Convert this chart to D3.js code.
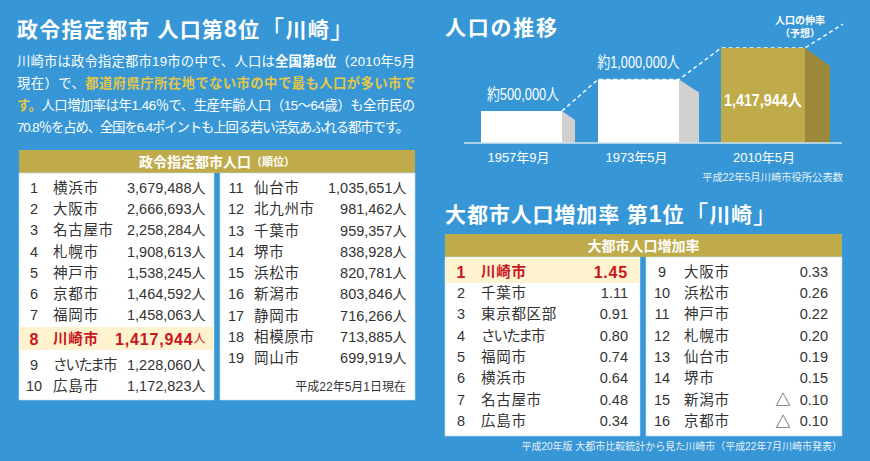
<!DOCTYPE html>
<html lang="ja">
<head>
<meta charset="utf-8">
<title>川崎市の人口</title>
<script src="https://cdn.jsdelivr.net/npm/d3@7"></script>
<style>
  html, body { margin: 0; padding: 0; background: #3797d6; }
  svg { display: block; }
  text { font-family: "Liberation Sans", "Noto Sans CJK JP", sans-serif; dominant-baseline: central; }
</style>
</head>
<body>
<svg width="870" height="461"></svg>
<script>
// population table
const popRanks = d3.range(1, 20);
const popCities = ["横浜市", "大阪市", "名古屋市", "札幌市", "神戸市", "京都市", "福岡市", "川崎市", "さいたま市", "広島市",
  "仙台市", "北九州市", "千葉市", "堺市", "浜松市", "新潟市", "静岡市", "相模原市", "岡山市"];
const popValues = [3679488, 2666693, 2258284, 1908613, 1538245, 1464592, 1458063, 1417944, 1228060, 1172823,
  1035651, 981462, 959357, 838928, 820781, 803846, 716266, 713885, 699919];

// growth rate table
const rateRanks = d3.range(1, 17);
const rateCities = ["川崎市", "千葉市", "東京都区部", "さいたま市", "福岡市", "横浜市", "名古屋市", "広島市",
  "大阪市", "浜松市", "神戸市", "札幌市", "仙台市", "堺市", "新潟市", "京都市"];
const rateValues = [1.45, 1.11, 0.91, 0.80, 0.74, 0.64, 0.48, 0.34, 0.33, 0.26, 0.22, 0.20, 0.19, 0.15, -0.10, -0.10];

// bars
const barDates = ["1957年9月", "1973年5月", "2010年5月"];
const barValues = [500000, 1000000, 1417944];
const barLabels = ["約500,000人", "約1,000,000人", "1,417,944人"];

const BLUE = "#3797d6", GOLD = "#bfab4a", GOLD_DARK = "#9b893b", SIDE = "#d1cfd0",
      CREAM = "#fff3cf", RED = "#c9151e", INK = "#333", PALE = "#e6f1f9", YELLOW = "#e3c647";

const svg = d3.select("svg");

function addText(parent, x, y, str, opts = {}) {
  const t = parent.append("text")
    .attr("x", x).attr("y", y)
    .attr("text-anchor", opts.anchor || "start")
    .attr("fill", opts.fill || "#fff")
    .style("font-size", (opts.size || 14) + "px")
    .style("font-weight", opts.weight || "normal");
  if (opts.spans) {
    opts.spans.forEach(s => {
      t.append("tspan")
        .attr("fill", s.fill || null)
        .style("font-weight", s.weight || null)
        .style("font-size", s.size ? s.size + "px" : null)
        .text(s.text);
    });
  } else {
    t.text(str);
  }
  if (opts.fit) t.attr("textLength", opts.fit).attr("lengthAdjust", opts.adjust || "spacing");
  return t;
}

// ---- left column text
addText(svg, 17, 29, "", { size: 21, weight: "bold", fit: 337, spans: [
  { text: "政令指定都市 人口第" }, { text: "8", size: 23 }, { text: "位" },
  { text: "「", weight: "normal", size: 24 }, { text: "川崎" }, { text: "」", weight: "normal", size: 24 }] });

const para = svg.append("g");
addText(para, 17, 61, "", { size: 13.3, fit: 398, spans: [
  { text: "川崎市は政令指定都市19市の中で、人口は" }, { text: "全国第8位", weight: "bold" }, { text: "（2010年5月" }] });
addText(para, 17, 82.5, "", { size: 13.3, fit: 398, spans: [
  { text: "現在）で、" }, { text: "都道府県庁所在地でない市の中で最も人口が多い市で", weight: "bold", fill: YELLOW }] });
addText(para, 17, 104.5, "", { size: 13.3, fit: 398, spans: [
  { text: "す。", weight: "bold", fill: YELLOW }, { text: "人口増加率は年1.46％で、生産年齢人口（15～64歳）も全市民の" }] });
addText(para, 17, 126.5, "", { size: 13.3, fit: 392, spans: [
  { text: "70.8％を占め、全国を6.4ポイントも上回る若い活気あふれる都市です。" }] });

// ---- tables
function tablePanels(x0, x1, x2, x3, top, headBottom, bottom, title) {
  svg.append("rect").attr("x", x0).attr("y", top).attr("width", x3 - x0).attr("height", headBottom - top).attr("fill", GOLD);
  svg.selectAll(null).data([[x0, x1], [x2, x3]]).enter().append("rect")
    .attr("x", d => d[0]).attr("y", headBottom)
    .attr("width", d => d[1] - d[0]).attr("height", bottom - headBottom)
    .attr("fill", "#fff").attr("stroke", "#bcdcf2").attr("stroke-width", 0.6);
  addText(svg, (x0 + x3) / 2, (top + headBottom) / 2, "", { anchor: "middle", size: 14, weight: "bold", spans: title });
}

tablePanels(19, 214, 220, 415, 150, 173, 400, [{ text: "政令指定都市人口" }, { text: "（順位）", size: 11 }]);
tablePanels(445, 640, 646, 842, 234, 257, 436, [{ text: "大都市人口増加率" }]);

const popY = d3.scaleLinear().domain([1, 7, 8, 9, 10]).range([188, 315, 339, 365, 386]);
const popY2 = d3.scaleLinear().domain([11, 19]).range([188, 358]);
const rateY = d3.scaleLinear().domain([1, 2, 8]).range([272, 293, 421]);
const rateY2 = d3.scaleLinear().domain([9, 10, 16]).range([272, 293, 421]);

function drawRows(rows, y, col, hl) {
  const g = svg.append("g");
  if (hl) {
    g.append("rect").attr("x", hl.x).attr("y", hl.y).attr("width", hl.w).attr("height", hl.h).attr("fill", CREAM);
  }
  const row = g.selectAll("g").data(rows).enter().append("g")
    .attr("transform", d => `translate(0,${y(d.rank)})`);
  const isHl = d => d.city === "川崎市";
  row.append("text").attr("x", col.rank).attr("text-anchor", "middle")
    .attr("fill", d => isHl(d) ? RED : INK)
    .style("font-size", d => isHl(d) ? "16px" : "14.5px")
    .style("font-weight", d => isHl(d) ? "bold" : "normal")
    .text(d => d.rank);
  row.append("text").attr("x", col.name)
    .attr("fill", d => isHl(d) ? RED : INK)
    .style("font-size", "14.5px")
    .style("font-weight", d => isHl(d) ? "bold" : "normal")
    .style("letter-spacing", d => d.city === "さいたま市" ? "-1.9px" : "0.7px")
    .text(d => d.city);
  row.append("text").attr("x", col.value).attr("text-anchor", "end")
    .attr("fill", d => isHl(d) ? RED : INK)
    .style("font-size", d => isHl(d) ? "16px" : "14.5px")
    .style("font-weight", d => isHl(d) ? "bold" : "normal")
    .each(function (d) {
      const t = d3.select(this);
      t.append("tspan").style("letter-spacing", isHl(d) ? "0.8px" : null).text(d.label);
      if (d.unit) t.append("tspan").style("font-weight", "normal").style("font-size", isHl(d) ? "12px" : "14px").text(d.unit);
    });
  return row;
}

const fmt = d3.format(",");
const popRows = popRanks.map((r, i) => ({ rank: r, city: popCities[i], label: fmt(popValues[i]), unit: "人" }));
drawRows(popRows.slice(0, 10), popY, { rank: 34, name: 53, value: 205.5 }, { x: 19, y: 327, w: 195, h: 23 });
drawRows(popRows.slice(10), popY2, { rank: 236, name: 254, value: 406.5 });
addText(svg, 406, 387, "平成22年5月1日現在", { anchor: "end", size: 12, fill: INK });

const rateFmt = d3.format(".2f");
const rateRows = rateRanks.map((r, i) => ({ rank: r, city: rateCities[i], label: rateFmt(Math.abs(rateValues[i])), neg: rateValues[i] < 0 }));
drawRows(rateRows.slice(0, 8), rateY, { rank: 461, name: 481, value: 628 }, { x: 445, y: 259, w: 195, h: 24 });
drawRows(rateRows.slice(8), rateY2, { rank: 662, name: 684, value: 828 })
  .filter(d => d.neg).append("text")
  .attr("x", 783).attr("text-anchor", "middle").attr("fill", INK)
  .style("font-size", "15px").text("△");

addText(svg, 842, 446, "平成20年版 大都市比較統計から見た川崎市（平成22年7月川崎市発表）", { anchor: "end", size: 10, fill: PALE });

// ---- bar chart
addText(svg, 445, 27, "人口の推移", { size: 21, weight: "bold", fit: 112 });

const y = d3.scaleLinear().domain([0, 500000, 1000000, 1417944]).range([143, 111, 79.5, 48]);
const depthX = d3.scaleLinear().domain([0, 500000, 1000000, 1417944]).range([0, 13, 20, 25]);
const depthY = d3.scaleLinear().domain([0, 500000, 1000000, 1417944]).range([0, 9, 13, 18]);
const xLeft = d3.scaleOrdinal().domain(barDates).range([481, 598, 721]);
const xRight = d3.scaleOrdinal().domain(barDates).range([562, 679, 805]);
const bars = barDates.map((d, i) => ({ date: d, value: barValues[i], label: barLabels[i], i }));

// dashed growth line runs behind the bars, through each top corner
const trend = d3.line();
const trendPts = [];
bars.forEach(b => { trendPts.push([xLeft(b.date), y(b.value)], [xRight(b.date), y(b.value)]); });
trendPts.shift();
svg.append("path")
  .attr("d", trend(trendPts.concat([[843, 24]])))
  .attr("fill", "none").attr("stroke", "#fff").attr("stroke-width", 1.4).attr("stroke-dasharray", "4 3");

const bar = svg.selectAll(".bar").data(bars).enter().append("g").attr("class", "bar");
bar.append("path")
  .attr("fill", d => d.i === 2 ? GOLD_DARK : SIDE)
  .attr("d", d => {
    const r = xRight(d.date), t = y(d.value), b = y(0);
    return `M${r},${t}L${r + depthX(d.value)},${t + depthY(d.value)}L${r + depthX(d.value)},${b}L${r},${b}Z`;
  });
bar.append("rect")
  .attr("x", d => xLeft(d.date)).attr("y", d => y(d.value))
  .attr("width", d => xRight(d.date) - xLeft(d.date))
  .attr("height", d => y(0) - y(d.value))
  .attr("fill", d => d.i === 2 ? GOLD : "#fff");

svg.append("line").attr("x1", 464).attr("x2", 842).attr("y1", y(0)).attr("y2", y(0))
  .attr("stroke", "#cfe4f3").attr("stroke-width", 1.5);

bar.append("text")
  .attr("x", d => (xLeft(d.date) + xRight(d.date)) / 2 + (d.i === 0 ? -3 : d.i === 1 ? -2 : 1))
  .attr("y", y(0) + 14.5)
  .attr("text-anchor", "middle").attr("fill", "#fff")
  .style("font-size", "13px").text(d => d.date);

// value labels are set condensed, hence the fixed text lengths
const labelLen = [72, 82, 78];
bar.append("text")
  .attr("x", d => (xLeft(d.date) + xRight(d.date)) / 2 + (d.i === 0 ? 1.5 : d.i === 2 ? 0 : 0))
  .attr("y", d => d.i === 2 ? 100 : y(d.value) - 17)
  .attr("text-anchor", "middle").attr("fill", "#fff")
  .attr("textLength", d => labelLen[d.i]).attr("lengthAdjust", "spacingAndGlyphs")
  .style("font-size", "16px")
  .style("font-weight", d => d.i === 2 ? "bold" : "normal")
  .text(d => d.label);

addText(svg, 800, 20, "人口の伸率", { anchor: "middle", size: 10, weight: "bold" });
addText(svg, 800, 33, "（予想）", { anchor: "middle", size: 10, weight: "bold" });
addText(svg, 843, 177, "平成22年5月川崎市役所公表数", { anchor: "end", size: 10.3, fill: PALE });

// ---- rate title
addText(svg, 445, 214, "", { size: 21, weight: "bold", fit: 332, spans: [
  { text: "大都市人口増加率 第" }, { text: "1", size: 23 }, { text: "位" },
  { text: "「", weight: "normal", size: 24 }, { text: "川崎" }, { text: "」", weight: "normal", size: 24 }] });
</script>
</body>
</html>
